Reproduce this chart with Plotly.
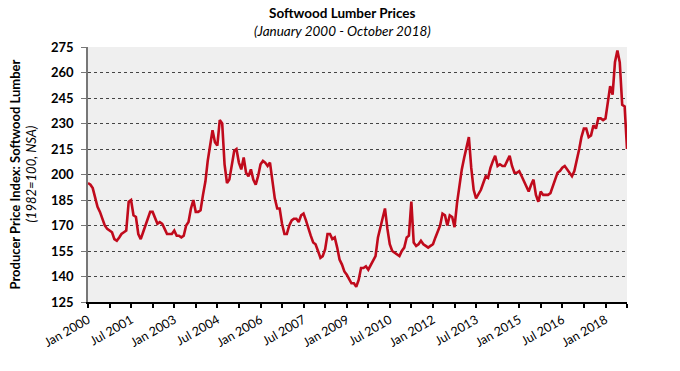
import pandas as pd
import plotly.graph_objects as go

# Monthly PPI values, Jan 2000 - Oct 2018
v2000 = [195, 194, 192, 187, 181, 178, 174, 170, 168, 167, 166, 162]
v2001 = [161, 163, 165, 166, 167, 184, 185, 176, 175, 165, 162, 166]
v2002 = [170, 175, 178, 178, 175, 171, 172, 171, 168, 165, 165, 165]
v2003 = [167, 164, 164, 163, 164, 170, 172, 180, 185, 178, 178, 179]
v2004 = [188, 196, 208, 218, 226, 219, 217, 232, 230, 206, 195, 197]
v2005 = [205, 214, 215, 207, 203, 210, 201, 199, 203, 197, 194, 199]
v2006 = [206, 208, 207, 205, 207, 196, 186, 180, 180, 171, 165, 165]
v2007 = [170, 173, 174, 174, 172, 176, 177, 173, 168, 164, 160, 159]
v2008 = [155, 151, 152, 156, 165, 165, 162, 163, 157, 150, 147, 143]
v2009 = [141, 138, 136, 136, 134, 138, 145, 145, 146, 144, 147, 150]
v2010 = [152, 163, 168, 175, 180, 168, 159, 155, 154, 153, 152, 155]
v2011 = [157, 163, 164, 184, 160, 158, 159, 161, 159, 158, 157, 158]
v2012 = [159, 163, 167, 170, 177, 176, 170, 176, 175, 169, 183, 193]
v2013 = [203, 210, 216, 222, 204, 191, 186, 189, 191, 195, 199, 198]
v2014 = [204, 208, 211, 205, 206, 205, 205, 208, 211, 205, 201, 201]
v2015 = [202, 199, 196, 193, 190, 194, 197, 188, 184, 190, 188, 188]
v2016 = [188, 189, 193, 197, 201, 202, 204, 205, 203, 201, 199, 202]
v2017 = [208, 215, 222, 227, 227, 222, 223, 229, 227, 233, 233, 232]
v2018 = [233, 243, 252, 247, 266, 273, 266, 241, 240, 215]

values = (v2000 + v2001 + v2002 + v2003 + v2004 + v2005 + v2006 + v2007 + v2008
          + v2009 + v2010 + v2011 + v2012 + v2013 + v2014 + v2015 + v2016 + v2017 + v2018)
dates = pd.date_range("2000-01-01", periods=len(values), freq="MS")

tick_labels = ["Jan 2000", "Jul 2001", "Jan 2003", "Jul 2004", "Jan 2006", "Jul 2007",
               "Jan 2009", "Jul 2010", "Jan 2012", "Jul 2013", "Jan 2015", "Jul 2016", "Jan 2018"]
tick_dates = [pd.Timestamp(d) for d in pd.to_datetime(tick_labels, format="%b %Y")]
y_ticks = [125, 140, 155, 170, 185, 200, 215, 230, 245, 260, 275]

FONT = "Lato, 'Open Sans', sans-serif"

fig = go.Figure()
fig.add_trace(go.Scatter(x=dates, y=values, mode="lines",
                         line=dict(color="#c00a1c", width=2.6), hoverinfo="x+y"))

fig.update_layout(
    width=680, height=371,
    margin=dict(l=88, r=53, t=47, b=69),
    paper_bgcolor="white",
    plot_bgcolor="#efefef",
    showlegend=False,
    font=dict(family=FONT, color="#000"),
    annotations=[
        dict(text="<b>Softwood Lumber Prices</b>", xref="paper", yref="paper",
             x=0.4727, y=1, yshift=34, xanchor="center", yanchor="middle",
             showarrow=False, font=dict(size=13.5, family=FONT)),
        dict(text="<i>(January 2000 - October 2018)</i>", xref="paper", yref="paper",
             x=0.4727, y=1, yshift=16, xanchor="center", yanchor="middle",
             showarrow=False, font=dict(size=13.5, family=FONT)),
        dict(text="<b>Producer Price Index: Softwood Lumber</b>", xref="paper", yref="paper",
             x=0, xshift=-74, y=0.5, textangle=-90, xanchor="center", yanchor="middle",
             showarrow=False, font=dict(size=13, family=FONT)),
        dict(text="<i>(1982=100, NSA)</i>", xref="paper", yref="paper",
             x=0, xshift=-58, y=0.5, textangle=-90, xanchor="center", yanchor="middle",
             showarrow=False, font=dict(size=13, family=FONT)),
    ],
)

fig.update_xaxes(
    range=[dates[0], dates[-1]],
    tickmode="array", tickvals=tick_dates, ticktext=tick_labels,
    tickangle=-30, tickfont=dict(size=12.5, family=FONT),
    ticks="outside", ticklen=4, tickcolor="#000", tickwidth=1.5,
    minor=dict(tickmode="linear", tick0="2000-01-01", dtick="M9",
               ticks="outside", ticklen=4, tickcolor="#000", tickwidth=1.5, showgrid=False),
    showline=True, linecolor="#000", linewidth=2,
    showgrid=False, zeroline=False,
)

fig.update_yaxes(
    range=[125, 275],
    tickmode="array", tickvals=y_ticks, ticktext=[str(t) for t in y_ticks],
    tickfont=dict(size=13, family=FONT, weight="bold"),
    ticks="outside", ticklen=5, tickcolor="#777", tickwidth=1,
    ticklabelstandoff=5,
    showline=True, linecolor="#777", linewidth=1.5,
    showgrid=True, gridcolor="#444", gridwidth=1, griddash="3px,3px",
    zeroline=False,
)

fig.write_html("out.html", config={"displayModeBar": False},
               post_script="document.body.style.margin='0';")
